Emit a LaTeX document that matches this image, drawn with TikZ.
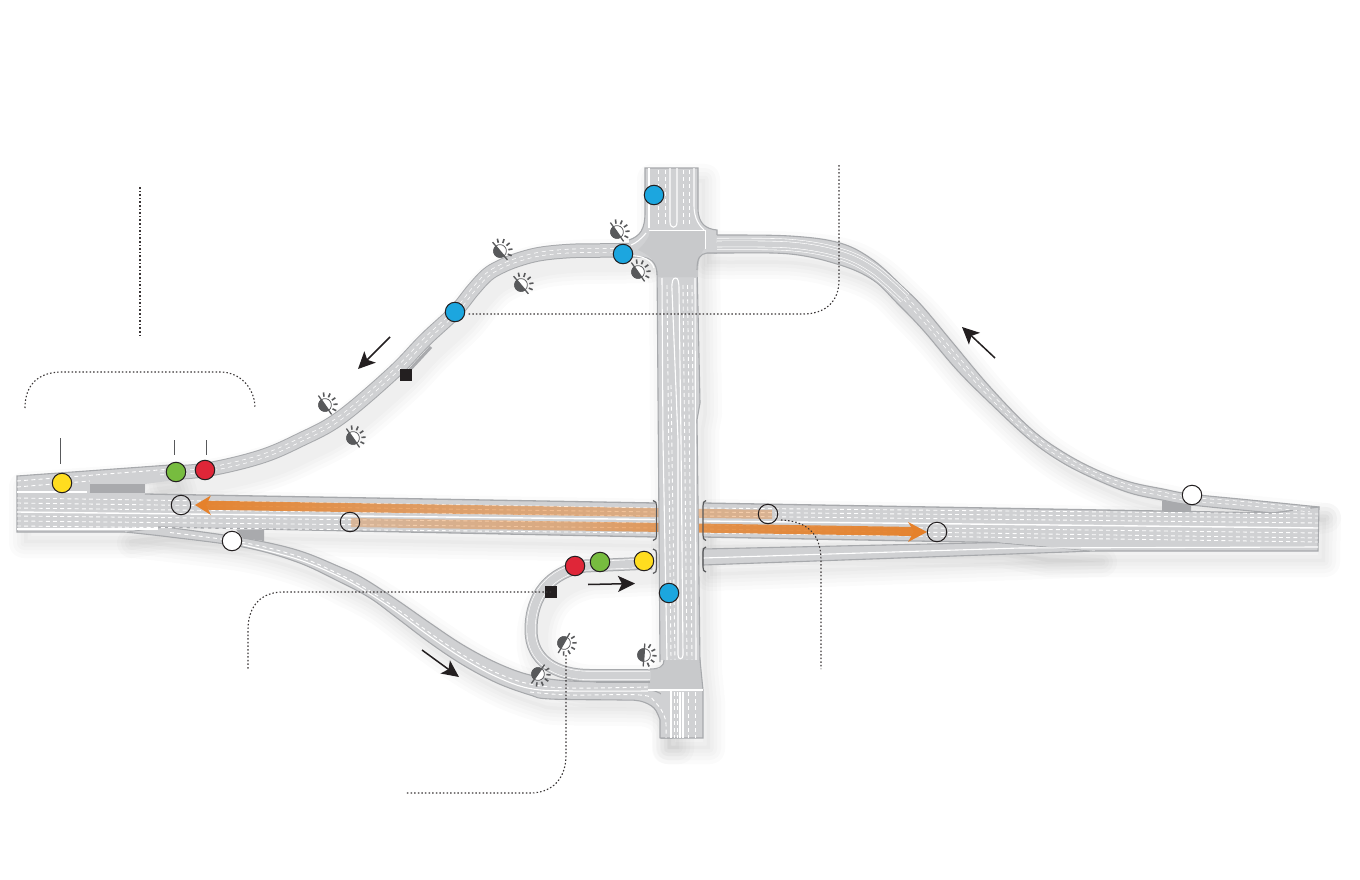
\documentclass[tikz,border=0pt]{standalone}
\usetikzlibrary{arrows.meta,fadings}
\definecolor{roadc}{HTML}{D0D1D3}
\definecolor{edgec}{HTML}{A7A9AC}
\definecolor{junc}{HTML}{C8C9CB}
\definecolor{darkc}{HTML}{A9AAAD}
\definecolor{inkc}{HTML}{231F20}
\definecolor{iconc}{HTML}{58595B}
\definecolor{orangec}{HTML}{E5812B}
\definecolor{yel}{HTML}{FFDD1F}
\definecolor{gre}{HTML}{77BC3F}
\definecolor{redc}{HTML}{DF2638}
\definecolor{blu}{HTML}{1CA6DF}
\pgfdeclarehorizontalshading{wfadeS}{100bp}{color(0bp)=(pgftransparent!0); color(25bp)=(pgftransparent!5); color(52bp)=(pgftransparent!45); color(79bp)=(pgftransparent!65); color(100bp)=(pgftransparent!72)}
\pgfdeclarefading{wfade}{\pgfuseshading{wfadeS}}
\pgfdeclarehorizontalshading{efadeS}{100bp}{color(0bp)=(pgftransparent!75); color(26bp)=(pgftransparent!65); color(44bp)=(pgftransparent!50); color(54bp)=(pgftransparent!22); color(63bp)=(pgftransparent!12); color(80bp)=(pgftransparent!0); color(100bp)=(pgftransparent!0)}
\pgfdeclarefading{efade}{\pgfuseshading{efadeS}}
\tikzset{
 rowdash/.style={white,line width=.9,dash pattern=on 4 off 3.2},
 whiteline/.style={white,line width=1.1},
 edgeline/.style={edgec,line width=1.1},
 marker/.style={circle,draw=inkc,line width=1,minimum size=19.5pt,inner sep=0pt},
 leader/.style={inkc!90,line width=1.1,dash pattern=on 1.5 off 2.1},
 tick/.style={iconc,line width=1},
 sq/.style={fill=inkc,draw=none,minimum size=12pt,inner sep=0pt},
 bracketline/.style={iconc,line width=1.2},
 dirarrow/.style={inkc,line width=1.5,-{Stealth[length=17pt,width=16pt,inset=4pt]}},
}
\newcommand\polyshadow[1]{%
 \begin{scope}[shift={(7,11)}]
 \foreach \w in {30,22,14,7}{\draw[black,opacity=.014,line width=\w,line join=round] #1;}
 \fill[black,opacity=.02] #1;
 \end{scope}}
\newcommand\polybody[1]{\filldraw[fill=roadc,draw=edgec,line width=1.1,line join=round] #1;}
\newcommand\strokeshadow[2]{%
 \begin{scope}[shift={(7,11)}]
 \foreach \w in {30,22,14,7}{\draw[black,opacity=.014,line width=#1+\w,line cap=round] #2;}
 \end{scope}}
\newcommand\strokebody[2]{%
 \draw[edgec,line width=#1] #2;
 \draw[roadc,line width=#1-2] #2;}
\newcommand\pairdash[1]{%
 \draw[white,line width=4.4,dash pattern=on 4 off 3.6] #1;
 \draw[roadc,line width=3] #1;}
\newcommand\curvedroads[1]{%
 #1{plot[smooth,tension=.6] coordinates {(165,527)(243,538)(297,550)(340,567)(363,578)(397,600)(430,623)(463,645)(497,663)(530,675)(570,681)(650,682)} -- (650,690) .. controls (665,692) and (672,703) .. (672,715) -- (672,738) -- (660,738) -- plot[smooth,tension=.6] coordinates {(660,720)(654,708)(640,701)(620,700)(550,699)(530,695)(497,683)(463,665)(430,643)(397,618)(370,598)(340,582)(297,562)(243,547)(170,537)(125,532)} -- cycle}%
 #1{plot[smooth,tension=.6] coordinates {(700,235)(717,235)(790,236)(840,243)(873,260)(903,287)(923,307)(953,343)(990,387)(1030,428)(1063,452)(1097,470)(1130,482)(1163,489)(1190,494)(1250,500)(1319,507)} -- plot[smooth,tension=.6] coordinates {(1273,513)(1191,505)(1162,500)(1130,493)(1097,480)(1063,463)(1030,440)(990,403)(957,370)(923,330)(897,303)(873,280)(840,265)(790,254)(720,253)(700,253)} -- cycle}%
}
\newcommand\strokeroads[1]{%
 #1{14.5}{plot[smooth,tension=.6] coordinates {(160,473)(205,470)(260,457)(300,440)(340,418)(393,373)(425,340)(455,312)(473,290)(487,275)(500,267)(517,260)(540,254)(570,251)(600,250.5)(640,250)}}%
 #1{13}{(652,675.5) -- (590,675.5) .. controls (555,675.5) and (531,660) .. (531,630) .. controls (531,595) and (550,572) .. (585,566) -- (652,563)}%
}
\newcommand\flatroads[1]{%
 #1{(17,476) -- (170,465) -- (175,480) -- (145,484) -- (145,494) -- (655,503) -- (655,537) -- (158,527) -- (125,532) -- (17,532) -- cycle}%
 #1{(703,503) -- (1273,513) -- (1319,507) -- (1318,551) -- (1040,551) -- (997,542) -- (703,537) -- cycle}%
 #1{(703,549) -- (997,542.5) -- (1095,551) -- (703,565) -- cycle}%
 #1{(645,168) -- (698,168) -- (698,240) -- (700,403) -- (697,420) -- (700,660) -- (703,690) -- (703,738) -- (661,738) -- (660,660) -- (657,270) -- (645,240) -- cycle}%
}
\newcommand\sunicon[3]{%
 \begin{scope}[shift={(#1,#2)},rotate=#3]
  \filldraw[fill=white,draw=iconc,line width=.7] (0,0) circle (6.4);
  \fill[iconc] (0,-6.8) arc (-90:-270:6.8) -- cycle;
  \draw[iconc,line width=1.3] (0,-11.5) -- (0,11.5);
  \foreach \a in {-62,-31,0,31,62}{\draw[iconc,line width=1.6] (\a:8.4) -- (\a:12.6);}
 \end{scope}}
\begin{document}
\begin{tikzpicture}[x=1pt,y=-1pt]
\useasboundingbox (0,0) rectangle (1360,880);
\fill[white] (0,0) rectangle (1360,880);
% soft shadows
\flatroads\polyshadow
\curvedroads\polyshadow
\strokeroads\strokeshadow
% gray strip beside the north-west ramp
\draw[darkc,line width=3] (405,375) -- (431,347);
% ramps
\curvedroads\polybody
\strokeroads\strokebody
% main carriageway west of the bridge
\fill[roadc] (17,476) -- (170,465) -- (175,480) -- (145,484) -- (145,494) -- (655,503) -- (655,537) -- (158,527) -- (125,532) -- (17,532) -- cycle;
\draw[edgeline] (170,465) -- (17,476) -- (17,532) -- (125,532);
\draw[edgec,line width=1.3] (145,494) -- (655,503);
\draw[edgec,line width=1.3] (158,527) -- (655,537);
\fill[darkc] (90,483.5) rectangle (145,493);
\fill[darkc] (236,529.5) -- (264,530) -- (264,541) -- (243,538) -- cycle;
\draw[whiteline,line width=1.4] (17,492) -- (87,492);
\draw[whiteline,line width=1.4] (17,512) -- (655,519.5);
\draw[whiteline] (17,529) -- (158,529);
\foreach \a/\b in {498/508,503/512,508/516,516/523,521/528,526/533}{\draw[rowdash] (17,\a) -- (655,\b);}
\draw[rowdash] (17,481) -- (165,469.5);
\draw[rowdash] (17,487) -- (90,481);
% main carriageway east of the bridge
\filldraw[fill=roadc,draw=edgec,line width=1.1] (703,549) -- (997,542.5) -- (1095,551) -- (703,565) -- cycle;
\fill[roadc] (703,503) -- (1273,513) -- (1319,507) -- (1318,551) -- (1095,551) -- (997,542) -- (703,537) -- cycle;
\draw[edgec,line width=1.3] (703,503) -- (1273,513);
\draw[edgec,line width=1.3] (703,537) -- (997,542.5);
\draw[edgeline] (1273,513) -- (1319,507) -- (1318,551) -- (1095,551);
\fill[darkc] (1162,500.5) -- (1191,505) -- (1191,511.5) -- (1162,511) -- cycle;
\draw[whiteline,line width=1.4] (703,521) -- (1318,528);
\draw[whiteline] (703,558) -- (1020,548) -- (1318,547);
\foreach \a/\b in {508/514,512/518,516/523,525/533,529/538,533/542}{\draw[rowdash] (703,\a) -- (1318,\b);}
% orange bands
\fill[orangec,path fading=wfade] (206,500.7) -- (772,510) -- (772,519) -- (206,509.7) -- cycle;
\fill[orangec,path fading=efade] (351,518) -- (915,527) -- (915,536) -- (351,527) -- cycle;
\fill[orangec] (195,505) -- (211,495.5) -- (206,505.2) -- (211,515) -- cycle;
\fill[orangec] (927,532) -- (908,522) -- (914,531.5) -- (908,542) -- cycle;
% north-south road
\fill[roadc] (657,262) -- (697,262) -- (700,403) -- (697,420) -- (700,660) -- (660,660) -- cycle;
\draw[edgeline] (657,262) -- (660,662);
\draw[edgeline] (697,262) -- (700,403) -- (697,420) -- (700,662);
\draw[whiteline] (662,278) -- (663,440) -- (667,660);
\draw[whiteline] (695,278) -- (696,660);
\draw[whiteline] (678,655) -- (678,440) -- (672,290) .. controls (671.5,281) and (673,278) .. (675.5,278) .. controls (678,278) and (679,281) .. (679,290) -- (681,440) -- (683,655) .. controls (683,660) and (678,660) .. (678,655);
\draw[rowdash] (667,285) -- (671,660);
\draw[rowdash] (671,385) -- (675,660);
\draw[rowdash] (683,285) -- (687,660);
\draw[rowdash] (687.5,285) -- (692,660);
\draw[rowdash] (692,285) -- (693,410);
% upper junction
\fill[roadc] (645,168) -- (698,168) -- (698,208) .. controls (698,224) and (706,229) .. (717,230) -- (717,253) -- (707,253) .. controls (700,254) and (697,258) .. (697,265) -- (657,265) .. controls (657,260) and (650,257) .. (640,257) -- (629,256) -- (629,240) .. controls (640,236) and (645,230) .. (645,212) -- cycle;
\fill[junc] (650,230) -- (705,230) -- (705,248) .. controls (700,253) and (698,262) .. (698,277) -- (658,277) .. controls (658,262) and (648,254) .. (638,250) .. controls (645,243) and (650,237) .. (650,230) -- cycle;
\draw[edgeline] (629,240) .. controls (640,236) and (645,230) .. (645,212) -- (645,168) -- (698,168) -- (698,208) .. controls (698,224) and (706,229) .. (717,230) -- (717,235);
\draw[edgeline] (717,253) -- (707,253) .. controls (700,254) and (697,258) .. (697,270);
\draw[edgeline] (630,257) -- (640,257) .. controls (650,257) and (657,262) .. (657,275);
\draw[whiteline] (649,168) -- (649,228);
\draw[whiteline] (694,168) -- (694,205) .. controls (694,220) and (700,226) .. (704,230);
\draw[whiteline,line width=1] (649,230) -- (705,230);
\draw[whiteline,line width=1] (705,230) -- (705,249);
\draw[whiteline] (670,168) -- (670,222) .. controls (670,229) and (677,229) .. (677,222) -- (677,168);
\foreach \a in {658,665,683,689}{\draw[rowdash] (\a,170) -- (\a,226);}
\draw[whiteline] (646,233) .. controls (640,240) and (636,243) .. (631,245);
\draw[whiteline] (630,256) .. controls (642,255) and (652,260) .. (654,268);
% lower junction and stub
\fill[junc] (648,669) -- (658,669) .. controls (662,668) and (664,664) .. (664,660) -- (700,660) -- (703,690) -- (648,690) -- cycle;
\draw[edgeline] (650,682) -- (596,682);
\draw[edgeline] (664,660) .. controls (664,666) and (660,669) .. (650,669);
\fill[roadc] (661,691) rectangle (703,738);
\draw[edgeline] (661,738) -- (703,738) -- (703,690) -- (700,660);
\draw[whiteline] (648,690) -- (703,690);
\draw[whiteline] (671,690) -- (671,738);
\draw[whiteline] (680,692) -- (680,738);
\draw[whiteline] (683,692) -- (683,738);
\foreach \a in {674,677,688,695}{\draw[rowdash] (\a,692) -- (\a,738);}
% lines in the ramps
\pairdash{plot[smooth,tension=.6] coordinates {(160,473)(205,470)(260,457)(300,440)(340,418)(393,373)(425,340)(455,312)(473,290)(487,275)(500,267)(517,260)(540,254)(570,251)(600,250.5)(628,250)}}
\pairdash{plot[smooth,tension=.6] coordinates {(905,298)(923,318)(955,356)(990,395)(1030,434)(1063,457)(1097,475)(1130,487)(1163,494)(1190,499)(1250,504)(1310,510)}}
\draw[white,line width=12] plot[smooth,tension=.6] coordinates {(717,244)(790,245)(840,254)(873,270)(905,298)};
\draw[roadc,line width=10.8] plot[smooth,tension=.6] coordinates {(717,244)(790,245)(840,254)(873,270)(905,298)};
\draw[white,line width=6.6] plot[smooth,tension=.6] coordinates {(717,244)(790,245)(840,254)(873,270)(905,298)};
\draw[roadc,line width=5.4] plot[smooth,tension=.6] coordinates {(717,244)(790,245)(840,254)(873,270)(905,298)};
\draw[rowdash] plot[smooth,tension=.6] coordinates {(170,532.5)(243,542.5)(297,556)(340,574.5)(370,591)(397,609)(430,633)(463,655)(497,673)(530,684)(570,688)(648,687)};
\draw[whiteline] plot[smooth,tension=.6] coordinates {(243,545)(297,559)(340,577)(370,594)(397,612)(430,636.5)(463,658.5)(497,677)(530,688.5)(570,691)(648,691)};
\draw[rowdash] plot[smooth,tension=.6] coordinates {(530,692)(570,695)(640,695)(655,702)(665,718)(666,738)};
\draw[white,line width=9] (650,675.5) -- (590,675.5) .. controls (555,675.5) and (531,660) .. (531,630) .. controls (531,595) and (550,572) .. (585,566) -- (650,563);
\draw[roadc,line width=7.8] (650,675.5) -- (590,675.5) .. controls (555,675.5) and (531,660) .. (531,630) .. controls (531,595) and (550,572) .. (585,566) -- (650,563);
% brackets
\draw[bracketline] (653,500.5) .. controls (656,501) and (656.5,503) .. (656.5,506) -- (656.5,535) .. controls (656.5,538) and (656,540) .. (653,540.5);
\draw[bracketline] (706,500.5) .. controls (703.5,501) and (703,503) .. (703,506) -- (703,535) .. controls (703,538) and (703.5,540) .. (706,540.5);
\draw[bracketline] (653,549) .. controls (656,549.5) and (656.5,551) .. (656.5,554) -- (656.5,568) .. controls (656.5,571) and (656,573) .. (653,573.5);
\draw[bracketline] (706,547) .. controls (703.5,547.5) and (703,549) .. (703,552) -- (703,567) .. controls (703,570) and (703.5,571.5) .. (706,572);
% lamps
\sunicon{500}{251}{40}
\sunicon{521}{285}{40}
\sunicon{617}{232}{35}
\sunicon{638}{272}{35}
\sunicon{325}{405}{35}
\sunicon{353}{438}{35}
\sunicon{564}{643}{-30}
\sunicon{644}{655}{-4}
\sunicon{538}{674}{-35}
% leaders
\node[sq] (sqa) at (406,375) {};
\node[sq] (sqb) at (551,592) {};
\coordinate (la) at (140,187); \coordinate (lb) at (140,337);
\draw[leader] (la) -- (lb);
\coordinate (lc) at (839,165); \coordinate (ld) at (468,314);
\draw[leader] (lc) -- (839,280) .. controls (839,302) and (825,314) .. (803,314) -- (ld);
\coordinate (le) at (781,520); \coordinate (lf) at (821,669);
\draw[leader] (le) .. controls (808,521) and (821,535) .. (821,560) -- (lf);
\coordinate (lg) at (248,670);
\draw[leader] (sqb.center) -- (283,592) .. controls (262,592) and (248,605) .. (248,630) -- (lg);
\coordinate (lh) at (566,655); \coordinate (li) at (405,793);
\draw[leader] (lh) -- (566,755) .. controls (566,778) and (553,793) .. (530,793) -- (li);
\coordinate (lj) at (25,408); \coordinate (lk) at (255,408);
\draw[leader] (lj) .. controls (25,385) and (38,372) .. (62,372) -- (220,372) .. controls (240,372) and (255,388) .. (lk);
% direction arrows
\coordinate (aa) at (390,337); \coordinate (ab) at (358,369);
\draw[dirarrow] (aa) -- (ab);
\coordinate (ac) at (995,358); \coordinate (ad) at (962,327);
\draw[dirarrow] (ac) -- (ad);
\coordinate (ae) at (422,650); \coordinate (af) at (459,677);
\draw[dirarrow] (ae) -- (af);
\coordinate (ag) at (588,584.5); \coordinate (ah) at (635,583.5);
\draw[dirarrow] (ag) -- (ah);
% markers
\node[marker,fill=yel] (y1) at (62,483) {};
\node[marker,fill=gre] (g1) at (176,472) {};
\node[marker,fill=redc] (r1) at (205,470) {};
\node[marker] (o1) at (181,505) {};
\node[marker] (o2) at (350,522) {};
\node[marker,fill=white] (w1) at (232,541) {};
\node[marker] (o3) at (937,532) {};
\node[marker] (o4) at (768,514) {};
\node[marker,fill=white] (w2) at (1192,495) {};
\node[marker,fill=blu] (b1) at (654,195) {};
\node[marker,fill=blu] (b2) at (623,254) {};
\node[marker,fill=blu] (b3) at (455,312) {};
\node[marker,fill=blu] (b4) at (669,593) {};
\node[marker,fill=redc] (r2) at (575,566) {};
\node[marker,fill=gre] (g2) at (600,562) {};
\node[marker,fill=yel] (y2) at (644,561) {};
% ticks
\coordinate (ta) at (60,438); \coordinate (tb) at (174,440); \coordinate (tc) at (206,440);
\draw[tick] (ta) -- (60,464);
\draw[tick] (tb) -- (174,455);
\draw[tick] (tc) -- (206,455);
\end{tikzpicture}
\end{document}
